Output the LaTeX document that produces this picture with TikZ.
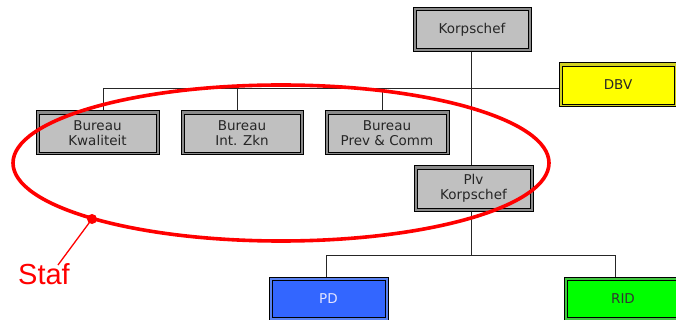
\documentclass[tikz,border=0pt]{standalone}
\usepackage{fontspec}
\setmainfont{DejaVu Sans}
\newfontfamily\staffont{Liberation Sans}
\begin{document}
\begin{tikzpicture}[x=1pt,y=-1pt,
  orgbox/.style n args={3}{draw=black,line width=1pt,fill=#2,
    minimum height=44pt,inner sep=0pt,align=center,
    font=\fontsize{13.5}{14.5}\selectfont,text=#3,
    path picture={\draw[black,line width=0.8pt,fill=#1]
      ([shift={(3pt,-3pt)}]path picture bounding box.north west) rectangle
      ([shift={(-3pt,3pt)}]path picture bounding box.south east);}},
  graybox/.style={orgbox={gray75}{gray45}{black!85}},
  conn/.style={draw=black!85,line width=0.9pt},
  stafline/.style={draw=red,line width=3.6pt}]
\definecolor{gray75}{HTML}{C0C0C0}
\definecolor{gray45}{HTML}{8A8A8A}
\definecolor{pdblue}{HTML}{3366FF}
\definecolor{pdband}{HTML}{5A82F0}
\definecolor{ridgreen}{HTML}{00FF00}
\definecolor{ridband}{HTML}{40C840}
\definecolor{dbvyellow}{HTML}{FFFF00}
\definecolor{dbvband}{HTML}{D0D020}
\useasboundingbox (0,0) rectangle (676,320);

\coordinate (hb) at (471,88);
\coordinate (hl) at (103,88);
\coordinate (hl2) at (237,88);
\coordinate (hl3) at (382,88);
\coordinate (lb) at (471,255);
\coordinate (lpd) at (326,255);
\coordinate (lrid) at (615,255);

\node[graybox,minimum width=118pt] (korps) at (472,29.5) {Korpschef};
\node[orgbox={dbvyellow}{dbvband}{black!85},minimum width=118pt] (dbv) at (618,85) {DBV};
\node[graybox,minimum width=123pt] (kwal) at (97.5,133) {Bureau\\Kwaliteit};
\node[graybox,minimum width=122pt] (intz) at (242,133) {Bureau\\Int. Zkn};
\node[graybox,minimum width=124pt] (prev) at (387,133) {Bureau\\Prev \& Comm};
\node[graybox,minimum width=119pt,minimum height=45pt] (plv) at (473.5,188.5) {Plv\\Korpschef};
\node[orgbox={pdblue}{pdband}{white!90!blue},minimum width=119pt,minimum height=43pt] (pd) at (328.5,298.5) {PD};
\node[orgbox={ridgreen}{ridband}{black!80},minimum width=118pt,minimum height=43pt] (rid) at (623,298.5) {RID};

\draw[conn] (korps.south -| hb) -- (plv.north -| hb);
\draw[conn] (hl) -- (dbv.west |- hl);
\draw[conn] (hl) -- (kwal.north -| hl);
\draw[conn] (hl2) -- (intz.north -| hl2);
\draw[conn] (hl3) -- (prev.north -| hl3);
\draw[conn] (plv.south -| lb) -- (lb);
\draw[conn] (lpd) -- (lrid);
\draw[conn] (lpd) -- (pd.north -| lpd);
\draw[conn] (lrid) -- (rid.north -| lrid);

% Staf ellipse
\coordinate (ec) at (281,163);
\draw[stafline] (ec) ellipse [x radius=268, y radius=78];
\coordinate (dot) at (92,219);
\fill[red] (dot) circle (5pt);
\node[text=red,font=\staffont\fontsize{29}{29}\selectfont,inner sep=0pt,anchor=north west] (staf) at (18,263) {Staf};
\draw[red,line width=1.3pt] (dot) -- (58,265);
\end{tikzpicture}
\end{document}
